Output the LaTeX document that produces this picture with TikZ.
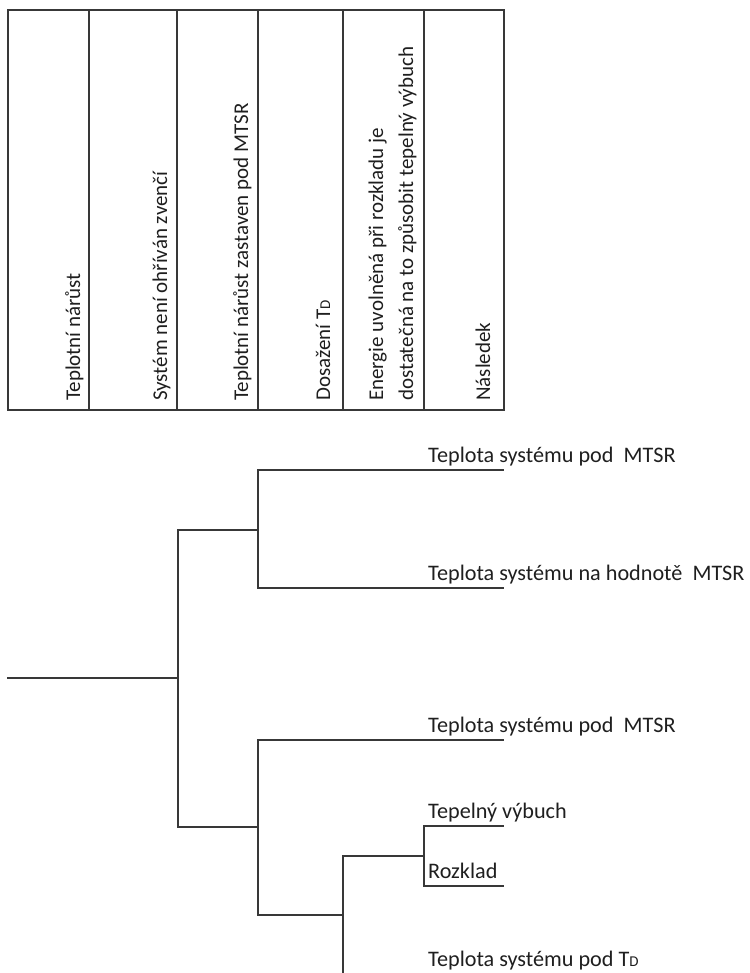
\documentclass[tikz,border=0pt]{standalone}
\usepackage{fontspec}
\setmainfont{Carlito}
\begin{document}
\begin{tikzpicture}[x=1pt,y=-1pt,
  rule/.style={draw=black!78,line width=1.6pt},
  branch/.style={rule,line cap=rect},
  headtext/.style={rotate=90,anchor=base west,inner sep=0pt,text=black!88,
    font=\fontsize{21}{30}\selectfont},
  leaf/.style={anchor=base west,inner sep=0pt,text=black!88,
    font=\fontsize{22.2}{26}\selectfont}]
\newcommand{\TDsym}{T{\fontsize{15}{15}\selectfont D}}
\useasboundingbox (0,0) rectangle (749,973);
\clip (0,0) rectangle (749,973);

% ---- header table ----
\draw[rule] (8,10) rectangle (504,410);
\foreach \cx in {89,177,258,343,424}
  \draw[rule] (\cx,10) -- (\cx,410);

\node[headtext] (h1) at (80,401) {Teplotní nárůst};
\node[headtext] (h2) at (167,401) {Systém není ohříván zvenčí};
\node[headtext] (h3) at (248,401) {Teplotní nárůst zastaven pod MTSR};
\node[headtext] (h4) at (330,401) {Dosažení \TDsym};
\node[headtext] (h5a) at (383,401) {Energie uvolněná při rozkladu je};
\node[headtext] (h5b) at (413,401) {dostatečná na to způsobit tepelný výbuch};
\node[headtext] (h6) at (490,401) {Následek};

% ---- event tree ----
\coordinate (root) at (8,678);
\coordinate (n1) at (178,678);
\coordinate (n1u) at (178,530);
\coordinate (n1d) at (178,827);
\coordinate (n2u) at (258,530);
\coordinate (n2ua) at (258,470);
\coordinate (n2ub) at (258,588);
\coordinate (n2d) at (258,827);
\coordinate (n2da) at (258,740);
\coordinate (n2db) at (258,915);
\coordinate (n3) at (343,915);
\coordinate (n3a) at (343,856);
\coordinate (n3b) at (343,976);
\coordinate (n4) at (424,856);
\coordinate (n4a) at (424,826);
\coordinate (n4b) at (424,886);
\coordinate (e1) at (503,470);
\coordinate (e2) at (503,588);
\coordinate (e3) at (503,740);
\coordinate (e4) at (503,826);
\coordinate (e5) at (503,886);
\coordinate (e6) at (503,976);

\draw[branch] (root) -- (n1);
\draw[branch] (n1u) -- (n1d);
\draw[branch] (n1u) -- (n2u);
\draw[branch] (n2ua) -- (n2ub);
\draw[branch] (n2ua) -- (e1);
\draw[branch] (n2ub) -- (e2);
\draw[branch] (n1d) -- (n2d);
\draw[branch] (n2da) -- (n2db);
\draw[branch] (n2da) -- (e3);
\draw[branch] (n2db) -- (n3);
\draw[branch] (n3a) -- (n3b);
\draw[branch] (n3a) -- (n4);
\draw[branch] (n4a) -- (n4b);
\draw[branch] (n4a) -- (e4);
\draw[branch] (n4b) -- (e5);
\draw[branch] (n3b) -- (e6);

\node[leaf] (l1) at (428,462) {Teplota systému pod\ \ MTSR};
\node[leaf] (l2) at (428,580) {Teplota systému na hodnotě\ \ MTSR};
\node[leaf] (l3) at (428,732) {Teplota systému pod\ \ MTSR};
\node[leaf] (l4) at (428,818) {Tepelný výbuch};
\node[leaf] (l5) at (428,878) {Rozklad};
\node[leaf] (l6) at (428,966) {Teplota systému pod \TDsym};
\end{tikzpicture}
\end{document}
